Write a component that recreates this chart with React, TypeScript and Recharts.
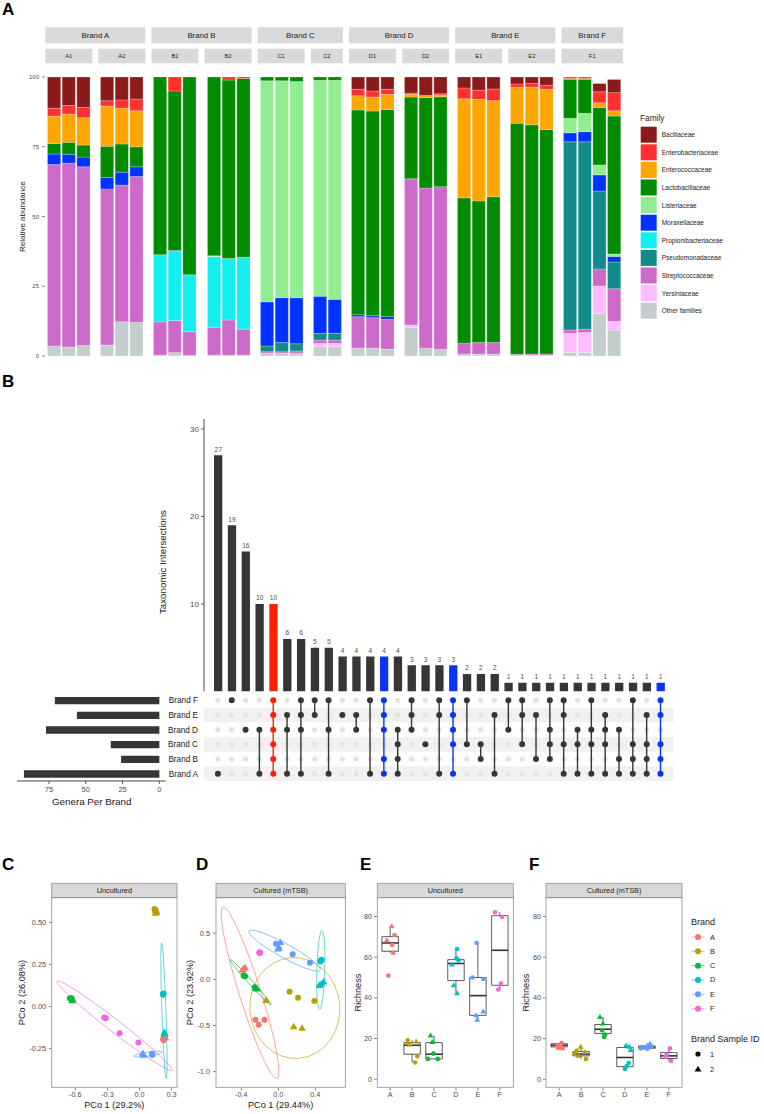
import React from "react"
import {
  Bar,
  BarChart,
  Cell,
  LabelList,
  ReferenceArea,
  ReferenceLine,
  Scatter,
  ScatterChart,
  XAxis,
  YAxis,
} from "recharts"

const FONT = "'Liberation Sans', Arial, sans-serif"
const TICK = "#4D4D4D"
const INK = "#1A1A1A"
const DARK = "#333333"

// ---------- Panel A: family composition per sample ----------
const sampleGroups = ["A1", "A2", "B1", "B2", "C1", "C2", "D1", "D2", "E1", "E2", "F1"]
const barsPerGroup = [3, 3, 3, 3, 3, 2, 3, 3, 3, 3, 4]

const familyNames = [
  "Bacillaceae",
  "Enterobacteriaceae",
  "Enterococcaceae",
  "Lactobacillaceae",
  "Listeriaceae",
  "Moraxellaceae",
  "Propionibacteriaceae",
  "Pseudomonadaceae",
  "Streptococcaceae",
  "Yersiniaceae",
  "Other families",
]
const familyColors = [
  "#8B1A1A",
  "#FF3030",
  "#FFA500",
  "#008B00",
  "#90EE90",
  "#0033FF",
  "#13EEEE",
  "#138B8B",
  "#CD69C9",
  "#FFBBFF",
  "#C4CDCD",
]

// one value per bar, 33 bars: A1 x3, A2 x3, B1 x3, B2 x3, C1 x3, C2 x2, D1 x3, D2 x3, E1 x3, E2 x3, F1 x4
const bacillaceae = [11.2, 10.2, 10.9, 8.5, 8.2, 7.9, 0, 0, 0, 0, 0, 0, 0, 0, 0, 0, 0, 4.4, 5.0, 4.4, 5.7, 6.6, 6.0, 3.9, 4.7, 4.3, 2.5, 2.3, 2.9, 0, 0, 3.0, 4.7]
const enterobacteriaceae = [2.8, 3.1, 3.7, 1.9, 3.0, 4.2, 0, 5.0, 0, 0, 1.1, 0.5, 0, 0, 0, 0, 0, 2.3, 2.2, 1.8, 0.5, 0, 0.4, 3.9, 3.3, 4.2, 1.2, 1.3, 1.5, 0.5, 0.5, 3.9, 6.5]
const enterococcaceae = [9.8, 10.1, 9.8, 14.4, 12.8, 12.9, 0, 0, 0, 0, 0, 0, 0, 0, 0, 0, 0, 5.1, 5.0, 5.4, 1.0, 0.7, 0.7, 35.5, 36.4, 34.4, 12.9, 13.5, 14.4, 0.3, 0.3, 1.7, 1.9]
const lactobacillaceae = [3.8, 4.3, 4.3, 11.2, 10.1, 7.2, 63.7, 57.2, 70.9, 64.1, 64.0, 64.1, 1.3, 1.3, 1.6, 1.2, 1.2, 73.4, 73.4, 74.3, 29.3, 32.5, 32.2, 52.2, 50.8, 52.3, 82.8, 82.2, 80.5, 14.0, 12.2, 20.6, 49.4]
const listeriaceae = [0, 0, 0, 0, 0, 0, 0, 0, 0, 0.3, 0, 0, 79.3, 77.8, 77.5, 77.4, 78.5, 0, 0, 0, 0, 0, 0, 0, 0, 0, 0, 0, 0, 5.2, 6.6, 3.6, 0.9]
const moraxellaceae = [3.8, 3.2, 3.5, 4.1, 4.7, 3.5, 0, 0.3, 0, 0, 0, 0, 15.8, 16.1, 16.5, 13.3, 12.2, 0.7, 0.7, 1.0, 0, 0, 0, 0, 0, 0, 0, 0, 0, 3.2, 3.6, 5.8, 2.0]
const propionibacteriaceae = [0, 0, 0, 0, 0, 0, 24.1, 24.8, 20.4, 25.3, 22.0, 25.8, 0, 0, 0, 0, 0, 0, 0, 0, 0, 0, 0, 0, 0, 0, 0, 0, 0, 0, 0, 0, 0]
const pseudomonadaceae = [0, 0, 0, 0, 0, 0, 0, 0, 0, 0, 0, 0, 2.1, 3.3, 2.6, 2.4, 2.4, 0, 0, 0, 0, 0, 0, 0, 0, 0, 0, 0, 0, 67.5, 67.2, 27.9, 9.6]
const streptococcaceae = [65.0, 65.9, 64.0, 56.0, 48.9, 52.2, 11.9, 11.5, 8.5, 10.0, 12.6, 9.3, 0.5, 0.5, 0.8, 1.2, 1.2, 11.3, 10.9, 10.6, 52.4, 57.4, 58.3, 3.8, 4.1, 4.1, 0.3, 0.4, 0.4, 1.2, 1.2, 6.1, 11.7]
const yersiniaceae = [0, 0, 0, 0, 0, 0, 0, 0, 0, 0, 0, 0, 0, 0, 0, 1.2, 1.2, 0, 0, 0, 0.8, 0, 0, 0, 0, 0, 0, 0, 0, 6.9, 7.2, 9.8, 3.1]
const otherFamilies = [3.6, 3.2, 3.8, 3.9, 12.3, 12.1, 0.3, 1.2, 0.2, 0.3, 0.3, 0.3, 1.0, 1.0, 1.0, 3.3, 3.3, 2.8, 2.8, 2.5, 10.3, 2.8, 2.4, 0.7, 0.7, 0.7, 0.3, 0.3, 0.3, 1.2, 1.2, 15.3, 9.3]

const familyValues = [
  bacillaceae,
  enterobacteriaceae,
  enterococcaceae,
  lactobacillaceae,
  listeriaceae,
  moraxellaceae,
  propionibacteriaceae,
  pseudomonadaceae,
  streptococcaceae,
  yersiniaceae,
  otherFamilies,
]
const stackOrder = familyNames.map((_, i) => i).reverse()

const groupStarts: number[] = []
barsPerGroup.reduce((acc, n) => {
  groupStarts.push(acc)
  return acc + n
}, 0)

const groupRows = sampleGroups.map((g, gi) =>
  Array.from({ length: barsPerGroup[gi] }, (_, k) => {
    const row: Record<string, string | number> = { id: `${g}.${k + 1}` }
    familyNames.forEach((f, fi) => {
      row[f] = familyValues[fi][groupStarts[gi] + k]
    })
    return row
  })
)

// layout of the faceted panel A
const U = 14.69
const GAP = 6.07
const A_LEFT = 45.3
const A_TOP = 77
const A_H = 279
const groupWidth = (gi: number) => (barsPerGroup[gi] + 0.2) * U
const groupLefts: number[] = []
{
  let x = A_LEFT
  barsPerGroup.forEach((_, gi) => {
    groupLefts.push(x)
    x += groupWidth(gi) + GAP
  })
}

// ---------- Panel B: upset ----------
const brandLetters = ["A", "B", "C", "D", "E", "F"]
const intersectionSizes = [27, 19, 16, 10, 10, 6, 6, 5, 5, 4, 4, 4, 4, 4, 3, 3, 3, 3, 2, 2, 2, 1, 1, 1, 1, 1, 1, 1, 1, 1, 1, 1, 1]
const intersectionSets = [
  "A", "F", "D", "DA", "FEDCBA", "EDA", "FEDA", "FE", "FDA", "E", "ED", "FA", "FEDBA", "DCBA", "FED", "C", "FEA",
  "FEDCA", "FC", "CB", "EA", "FD", "FEC", "EB", "FDCB", "FECA", "DCA", "FDCA", "EDCA", "DBA", "FCBA", "ECBA", "FECBA",
]
const coreColumn = 4
const fiveWayColumns = [12, 17, 32]
const setBrands = ["F", "E", "D", "C", "B", "A"]
const generaPerBrand = [71, 56, 77, 33, 26, 92]

const columnColor = (i: number) =>
  i === coreColumn ? "#FF2200" : fiveWayColumns.includes(i) ? "#0A33F5" : "#363636"

const intersectionRows = intersectionSizes.map((size, i) => ({ key: `I${i}`, size }))
const setRows = setBrands.map((brand, i) => ({ brand: `Brand ${brand}`, genera: generaPerBrand[i] }))

const inactiveDots = intersectionSets.flatMap((set, i) =>
  brandLetters.filter((b) => !set.includes(b)).map((b) => ({ x: i, y: brandLetters.indexOf(b) }))
)
const activeColumns = intersectionSets.map((set, i) => ({
  color: columnColor(i),
  dots: brandLetters
    .filter((b) => set.includes(b))
    .map((b) => ({ x: i, y: brandLetters.indexOf(b) })),
}))

// ---------- Panels C-F ----------
const brandColors: Record<string, string> = {
  A: "#F8766D",
  B: "#B79F00",
  C: "#00BA38",
  D: "#00BFC4",
  E: "#619CFF",
  F: "#F564E3",
}
const sampleBrand = sampleGroups.flatMap((g, gi) => Array(barsPerGroup[gi]).fill(g[0]))
const sampleNo = sampleGroups.flatMap((g, gi) => Array(barsPerGroup[gi]).fill(Number(g[1])))

const uncPco1 = [0.22, 0.23, 0.225, 0.235, 0.24, 0.23, 0.14, 0.15, 0.145, 0.155, 0.16, 0.15, -0.65, -0.64, -0.635, -0.625, -0.63, 0.222, 0.22, 0.224, 0.234, 0.238, 0.232, 0.119, 0.115, 0.12, 0.035, 0.04, 0.03, -0.33, -0.315, -0.186, -0.011]
const uncPco2 = [-0.195, -0.19, -0.2, -0.18, -0.185, -0.175, 0.58, 0.575, 0.565, 0.56, 0.565, 0.555, 0.05, 0.045, 0.05, 0.04, 0.035, 0.075, 0.07, 0.078, -0.16, -0.165, -0.155, -0.284, -0.28, -0.288, -0.285, -0.29, -0.28, -0.065, -0.07, -0.159, -0.214]
const culPco1 = [-0.249, -0.213, -0.151, -0.375, -0.36, -0.39, 0.122, 0.213, 0.389, -0.133, 0.166, 0.256, -0.375, -0.36, -0.255, -0.245, -0.23, 0.461, 0.455, 0.468, 0.443, 0.49, 0.465, -0.025, 0.155, 0.342, 0.022, -0.007, 0.01, -0.202, -0.205, -0.2, -0.198]
const culPco2 = [-0.437, -0.491, -0.437, 0.112, 0.125, 0.1, -0.134, -0.198, -0.235, -0.228, -0.513, -0.531, 0.04, 0.035, -0.085, -0.1, -0.105, 0.206, 0.195, 0.212, -0.065, -0.029, -0.05, 0.385, 0.271, 0.181, 0.4, 0.328, 0.34, 0.289, 0.292, 0.286, 0.29]

const uncRichness = [70.9, 66.0, 51.0, 75.2, 68.3, 62.1, 19.2, 11.3, 8.2, 18.2, 18.5, 17.0, 12.6, 10.0, 10.0, 21.5, 18.3, 64.0, 59.5, 58.5, 56.4, 46.2, 42.3, 67.0, 50.0, 49.3, 31.4, 29.2, 33.3, 82.1, 79.9, 47.0, 44.1]
const uncJitter = [0.2, 0.09, -0.08, 0.07, -0.15, 0.14, -0.2, 0.24, 0.14, -0.18, 0.18, -0.1, -0.03, -0.28, 0.17, -0.16, -0.08, 0.05, 0.03, 0.12, -0.18, -0.1, 0.05, -0.06, -0.25, 0.25, -0.09, -0.03, 0.24, -0.22, 0.1, 0.05, -0.07]
const culRichness = [17.8, 16.7, 16.2, 16.5, 15.5, 15.2, 14.0, 12.6, 10.0, 15.9, 13.4, 11.5, 24.1, 22.0, 20.8, 30.6, 27.4, 8.0, 5.1, 6.5, 16.6, 16.0, 14.3, 15.2, 15.6, 15.0, 17.5, 16.4, 15.9, 15.2, 12.0, 11.0, 9.0]
const culJitter = [0.11, -0.07, 0.07, 0.04, -0.04, 0.16, -0.2, -0.3, 0.22, -0.02, 0.18, -0.12, -0.04, 0.09, 0.05, -0.14, 0, 0.17, 0, 0.08, 0.05, 0.2, 0.26, -0.28, -0.13, 0.02, 0.14, 0.02, 0.22, 0.05, -0.1, -0.16, 0.1]

const uncBoxLow = [62.1, 8.2, 10.0, 42.3, 29.2, 44.1]
const uncBoxQ1 = [62.9, 12.3, 10.0, 48.5, 31.4, 46.2]
const uncBoxMedian = [67.0, 16.7, 12.3, 56.9, 41.1, 63.4]
const uncBoxQ3 = [70.1, 18.0, 18.0, 58.8, 50.0, 80.4]
const uncBoxHigh = [75.2, 19.2, 21.5, 64.0, 67.0, 82.1]
const culBoxLow = [15.2, 10.0, 20.8, 5.1, 15.0, 9.0]
const culBoxQ1 = [15.9, 11.5, 22.5, 6.2, 15.1, 10.2]
const culBoxMedian = [16.7, 12.4, 24.6, 10.7, 15.7, 11.5]
const culBoxQ3 = [17.5, 13.6, 26.9, 15.6, 16.4, 13.1]
const culBoxHigh = [17.8, 15.9, 30.6, 16.6, 17.5, 15.2]

// ellipses: major axis end points (data units) and minor/major ratio
const uncEllipses = [
  { brand: "F", x1: -0.771, y1: 0.151, x2: 0.304, y2: -0.379, ratio: 0.085 },
  { brand: "D", x1: 0.206, y1: 0.379, x2: 0.25, y2: -0.429, ratio: 0.03 },
  { brand: "E", x1: -0.055, y1: -0.295, x2: 0.216, y2: -0.27, ratio: 0.14 },
]
const culEllipses = [
  { brand: "A", x1: -0.598, y1: 0.783, x2: -0.014, y2: -1.076, ratio: 0.12 },
  { brand: "C", x1: -0.519, y1: 0.213, x2: -0.079, y2: -0.278, ratio: 0.07 },
  { brand: "E", x1: -0.317, y1: 0.523, x2: 0.454, y2: 0.098, ratio: 0.17 },
  { brand: "D", x1: 0.472, y1: 0.531, x2: 0.446, y2: -0.328, ratio: 0.1 },
  { brand: "B", x1: 0.13, y1: 0.235, x2: 0.227, y2: -0.856, ratio: 0.89 },
]

const toPoints = (xs: number[], ys: number[]) =>
  xs.map((x, i) => ({ x, y: ys[i], brand: sampleBrand[i], sample: sampleNo[i] }))
const toRichness = (vals: number[], jitter: number[]) =>
  vals.map((y, i) => ({ x: brandLetters.indexOf(sampleBrand[i]) + 1 + jitter[i], y, brand: sampleBrand[i], sample: sampleNo[i] }))

const PLOT_TOP = 897.7
const PLOT_H = 189.6

const tickStyle = (size: number) => ({ fontSize: size, fill: TICK, fontFamily: FONT })

function brandMarker(r: number) {
  return (props: any) => {
    const { cx, cy, payload } = props
    if (cx == null || cy == null) return <g />
    const color = brandColors[payload.brand]
    if (payload.sample === 2) {
      const s = r * 1.35
      return (
        <path
          d={`M${cx},${cy - s} L${cx + s * 0.95},${cy + s * 0.62} L${cx - s * 0.95},${cy + s * 0.62}Z`}
          fill={color}
        />
      )
    }
    return <circle cx={cx} cy={cy} r={r} fill={color} />
  }
}

function EllipseShape(props: any) {
  const { x, y, width, height, spec } = props
  if (![x, y, width, height].every((v) => Number.isFinite(v))) return <g />
  const rising = (spec.x2 - spec.x1) * (spec.y2 - spec.y1) > 0
  const cx = x + width / 2
  const cy = y + height / 2
  const rx = Math.hypot(width, height) / 2
  const angle = (Math.atan2(rising ? -height : height, width) * 180) / Math.PI
  return (
    <ellipse
      cx={cx}
      cy={cy}
      rx={rx}
      ry={rx * spec.ratio}
      transform={`rotate(${angle} ${cx} ${cy})`}
      fill="none"
      stroke={brandColors[spec.brand]}
      strokeWidth={0.6}
    />
  )
}

function CompositionPanel({ gi }: { gi: number }) {
  const axisW = gi === 0 ? 40 : 0
  const plotW = groupWidth(gi)
  return (
    <div style={{ position: "absolute", left: groupLefts[gi] - axisW, top: A_TOP - 5 }}>
      <BarChart
        width={plotW + axisW}
        height={A_H + 10}
        data={groupRows[gi]}
        margin={{ top: 5, right: 0, bottom: 5, left: 0 }}
      >
        <XAxis dataKey="id" hide padding={{ left: 0.1 * U, right: 0.1 * U }} />
        <YAxis
          hide={gi !== 0}
          width={axisW}
          domain={[0, 100]}
          allowDataOverflow
          ticks={[0, 25, 50, 75, 100]}
          axisLine={false}
          tickSize={3}
          tickMargin={3}
          tickLine={{ stroke: DARK, strokeWidth: 0.6 }}
          tick={tickStyle(6)}
        />
        {stackOrder.map((fi) => (
          <Bar
            key={familyNames[fi]}
            dataKey={familyNames[fi]}
            stackId="family"
            fill={familyColors[fi]}
            stroke="#ffffff"
            strokeWidth={0.25}
            barSize={0.9 * U}
            isAnimationActive={false}
          />
        ))}
      </BarChart>
    </div>
  )
}

function IntersectionBars() {
  const plotW = 469.7
  return (
    <div style={{ position: "absolute", left: 204.3 - 30, top: 414.3 }}>
      <BarChart
        width={30 + plotW}
        height={278.4}
        data={intersectionRows}
        margin={{ top: 5, right: 0, bottom: 1, left: 0 }}
      >
        <XAxis
          dataKey="key"
          height={0}
          tick={false}
          tickLine={false}
          axisLine={{ stroke: DARK, strokeWidth: 0.9 }}
          padding={{ left: 7, right: 6.3 }}
        />
        <YAxis
          width={30}
          domain={[0, 31.14]}
          allowDataOverflow
          ticks={[0, 10, 20, 30]}
          tickSize={3}
          tickMargin={2}
          axisLine={{ stroke: DARK, strokeWidth: 0.9 }}
          tickLine={{ stroke: DARK, strokeWidth: 0.8 }}
          tick={tickStyle(8)}
        />
        <Bar dataKey="size" barSize={8.3} isAnimationActive={false}>
          {intersectionRows.map((r, i) => (
            <Cell key={r.key} fill={columnColor(i)} />
          ))}
          <LabelList dataKey="size" position="top" offset={3.5} fontSize={6.6} fill={TICK} fontFamily={FONT} />
        </Bar>
      </BarChart>
    </div>
  )
}

function IntersectionMatrix() {
  const axisW = 70
  return (
    <div style={{ position: "absolute", left: 204.3 - axisW, top: 692.7 }}>
      <ScatterChart width={axisW + 469.7} height={88} margin={{ top: 0, right: 0, bottom: 0, left: 0 }}>
        <XAxis type="number" dataKey="x" domain={[-1.005, 32.954]} allowDataOverflow hide />
        <YAxis
          type="number"
          dataKey="y"
          domain={[-0.5, 5.5]}
          allowDataOverflow
          ticks={[0, 1, 2, 3, 4, 5]}
          width={axisW}
          axisLine={false}
          tickLine={false}
          tickSize={4}
          tickMargin={2}
          tickFormatter={(v: number) => `Brand ${brandLetters[v]}`}
          tick={{ fontSize: 8.2, fill: INK, fontFamily: FONT, width: 60 }}
        />
        {[0, 2, 4].map((r) => (
          <ReferenceArea key={r} y1={r - 0.5} y2={r + 0.5} fill="#F1F1F1" fillOpacity={1} stroke="none" ifOverflow="visible" />
        ))}
        <Scatter
          data={inactiveDots}
          isAnimationActive={false}
          shape={(p: any) => <circle cx={p.cx} cy={p.cy} r={2.6} fill="#E3E3E3" />}
        />
        {activeColumns.map((col, i) => (
          <Scatter
            key={i}
            data={col.dots}
            line={{ stroke: col.color, strokeWidth: 1.4 }}
            lineType="joint"
            isAnimationActive={false}
            shape={(p: any) => <circle cx={p.cx} cy={p.cy} r={3} fill={col.color} />}
          />
        ))}
      </ScatterChart>
    </div>
  )
}

function SetSizeBars() {
  return (
    <div style={{ position: "absolute", left: 17.3, top: 692.7 }}>
      <BarChart
        layout="vertical"
        width={148.7}
        height={88 + 14}
        data={setRows}
        margin={{ top: 0, right: 0, bottom: 0, left: 0 }}
      >
        <XAxis
          type="number"
          domain={[-4.3, 96.7]}
          allowDataOverflow
          reversed
          ticks={[0, 25, 50, 75]}
          height={14}
          tickSize={3}
          tickMargin={2.5}
          axisLine={{ stroke: DARK, strokeWidth: 0.9 }}
          tickLine={{ stroke: DARK, strokeWidth: 0.8 }}
          tick={tickStyle(7.5)}
        />
        <YAxis type="category" dataKey="brand" hide />
        <Bar dataKey="genera" fill="#363636" barSize={7.3} isAnimationActive={false} />
      </BarChart>
    </div>
  )
}

function PcoaPanel({
  left,
  plotW,
  xDomain,
  yDomain,
  xTicks,
  yTicks,
  xDigits,
  yDigits,
  points,
  ellipses,
}: {
  left: number
  plotW: number
  xDomain: [number, number]
  yDomain: [number, number]
  xTicks: number[]
  yTicks: number[]
  xDigits: number
  yDigits: number
  points: any[]
  ellipses: any[]
}) {
  return (
    <div style={{ position: "absolute", left: left - 40, top: PLOT_TOP }}>
      <ScatterChart width={plotW + 40} height={PLOT_H + 14} margin={{ top: 0, right: 0, bottom: 0, left: 0 }}>
        <XAxis
          type="number"
          dataKey="x"
          domain={xDomain}
          allowDataOverflow
          ticks={xTicks}
          height={14}
          axisLine={false}
          tickSize={3}
          tickMargin={1}
          tickLine={{ stroke: DARK, strokeWidth: 0.6 }}
          tickFormatter={(v: number) => v.toFixed(xDigits)}
          tick={tickStyle(7.3)}
        />
        <YAxis
          type="number"
          dataKey="y"
          domain={yDomain}
          allowDataOverflow
          ticks={yTicks}
          width={40}
          axisLine={false}
          tickSize={3}
          tickMargin={3}
          tickLine={{ stroke: DARK, strokeWidth: 0.6 }}
          tickFormatter={(v: number) => v.toFixed(yDigits)}
          tick={tickStyle(7.3)}
        />
        <Scatter data={points} isAnimationActive={false} shape={brandMarker(3)} />
        {ellipses.map((e, i) => (
          <ReferenceArea
            key={i}
            x1={e.x1}
            x2={e.x2}
            y1={e.y1}
            y2={e.y2}
            ifOverflow="visible"
            shape={(p: any) => <EllipseShape {...p} spec={e} />}
          />
        ))}
      </ScatterChart>
    </div>
  )
}

function RichnessPanel({
  left,
  points,
  low,
  q1,
  median,
  q3,
  high,
}: {
  left: number
  points: any[]
  low: number[]
  q1: number[]
  median: number[]
  q3: number[]
  high: number[]
}) {
  const half = 0.375
  return (
    <div style={{ position: "absolute", left: left - 40, top: PLOT_TOP }}>
      <ScatterChart width={136 + 40} height={PLOT_H + 14} margin={{ top: 0, right: 0, bottom: 0, left: 0 }}>
        <XAxis
          type="number"
          dataKey="x"
          domain={[0.4, 6.6]}
          allowDataOverflow
          ticks={[1, 2, 3, 4, 5, 6]}
          height={14}
          axisLine={false}
          tickSize={3}
          tickMargin={1}
          tickLine={{ stroke: DARK, strokeWidth: 0.6 }}
          tickFormatter={(v: number) => brandLetters[v - 1]}
          tick={tickStyle(7.3)}
        />
        <YAxis
          type="number"
          dataKey="y"
          domain={[-4.1, 89.1]}
          allowDataOverflow
          ticks={[0, 20, 40, 60, 80]}
          width={40}
          axisLine={false}
          tickSize={3}
          tickMargin={2}
          tickLine={{ stroke: DARK, strokeWidth: 0.6 }}
          tick={tickStyle(7.3)}
        />
        {brandLetters.map((b, i) => (
          <ReferenceLine
            key={`hi-${b}`}
            segment={[
              { x: i + 1, y: q3[i] },
              { x: i + 1, y: high[i] },
            ]}
            stroke={DARK}
            strokeWidth={0.8}
          />
        ))}
        {brandLetters.map((b, i) => (
          <ReferenceLine
            key={`lo-${b}`}
            segment={[
              { x: i + 1, y: low[i] },
              { x: i + 1, y: q1[i] },
            ]}
            stroke={DARK}
            strokeWidth={0.8}
          />
        ))}
        {brandLetters.map((b, i) => (
          <ReferenceArea
            key={`box-${b}`}
            x1={i + 1 - half}
            x2={i + 1 + half}
            y1={q1[i]}
            y2={q3[i]}
            fill="#ffffff"
            fillOpacity={1}
            stroke={DARK}
            strokeWidth={0.8}
            ifOverflow="visible"
          />
        ))}
        {brandLetters.map((b, i) => (
          <ReferenceLine
            key={`med-${b}`}
            segment={[
              { x: i + 1 - half, y: median[i] },
              { x: i + 1 + half, y: median[i] },
            ]}
            stroke={DARK}
            strokeWidth={1.6}
          />
        ))}
        <Scatter data={points} isAnimationActive={false} shape={brandMarker(2.3)} />
      </ScatterChart>
    </div>
  )
}

function Strip({ x, y, w, h, label, size }: { x: number; y: number; w: number; h: number; label: string; size: number }) {
  return (
    <g>
      <rect x={x} y={y} width={w} height={h} fill="#D9D9D9" />
      <text x={x + w / 2} y={y + h / 2} textAnchor="middle" dominantBaseline="central" fontSize={size} fill={INK}>
        {label}
      </text>
    </g>
  )
}

function Overlay() {
  const letters: [string, number, number][] = [
    ["A", 2, 15],
    ["B", 2, 387],
    ["C", 2, 870],
    ["D", 196, 870],
    ["E", 360, 870],
    ["F", 529, 870],
  ]
  const facetPanels = [
    { x: 51.7, w: 125.3, label: "Uncultured" },
    { x: 216, w: 129.3, label: "Cultured (mTSB)" },
    { x: 377.3, w: 136, label: "Uncultured" },
    { x: 546, w: 136, label: "Cultured (mTSB)" },
  ]
  const rotated = (x: number, y: number, label: string, size: number) => (
    <text
      x={x}
      y={y}
      transform={`rotate(-90 ${x} ${y})`}
      textAnchor="middle"
      dominantBaseline="central"
      fontSize={size}
      fill={INK}
    >
      {label}
    </text>
  )
  return (
    <svg
      width={764}
      height={1114}
      style={{ position: "absolute", left: 0, top: 0, pointerEvents: "none" }}
      fontFamily={FONT}
    >
      {letters.map(([t, x, y]) => (
        <text key={t} x={x} y={y} fontSize={17} fontWeight="bold" fill="#000">
          {t}
        </text>
      ))}

      {/* panel A strips */}
      {brandLetters.map((b) => {
        const idx = sampleGroups.map((g, i) => (g[0] === b ? i : -1)).filter((i) => i >= 0)
        const first = idx[0]
        const last = idx[idx.length - 1]
        const x0 = groupLefts[first]
        const x1 = groupLefts[last] + groupWidth(last)
        return <Strip key={b} x={x0} y={27.3} w={x1 - x0} h={16} label={`Brand ${b}`} size={7.8} />
      })}
      {sampleGroups.map((g, gi) => (
        <Strip key={g} x={groupLefts[gi]} y={48.7} w={groupWidth(gi)} h={14.6} label={g} size={5.8} />
      ))}
      {rotated(22.3, 216.7, "Relative abundance", 8)}

      {/* family legend */}
      <text x={640} y={118} dominantBaseline="central" fontSize={8.3} fill={INK}>
        Family
      </text>
      {familyNames.map((f, i) => (
        <g key={f}>
          <rect x={640.7} y={126.7 + i * 17.6} width={16} height={16} fill={familyColors[i]} />
          <text x={661.7} y={134.7 + i * 17.6} dominantBaseline="central" fontSize={6.5} fill={INK}>
            {f}
          </text>
        </g>
      ))}

      {/* panel B titles */}
      {rotated(162, 562, "Taxonomic Intersections", 9.7)}
      <text x={91.7} y={801} textAnchor="middle" dominantBaseline="central" fontSize={9.8} fill={INK}>
        Genera Per Brand
      </text>

      {/* panels C-F frames */}
      {facetPanels.map((p, i) => (
        <g key={i}>
          <rect x={p.x} y={883.3} width={p.w} height={14.4} fill="#D9D9D9" stroke="#8F8F8F" strokeWidth={0.8} />
          <text x={p.x + p.w / 2} y={890.5} textAnchor="middle" dominantBaseline="central" fontSize={7.3} fill={INK}>
            {p.label}
          </text>
          <rect x={p.x} y={PLOT_TOP} width={p.w} height={PLOT_H} fill="none" stroke="#8F8F8F" strokeWidth={0.8} />
        </g>
      ))}
      <text x={114.3} y={1105} textAnchor="middle" dominantBaseline="central" fontSize={9.2} fill={INK}>
        PCo 1 (29.2%)
      </text>
      {rotated(22, 992.5, "PCo 2 (26.08%)", 9.2)}
      <text x={280.6} y={1105} textAnchor="middle" dominantBaseline="central" fontSize={9.2} fill={INK}>
        PCo 1 (29.44%)
      </text>
      {rotated(189.5, 992.5, "PCo 2 (23.92%)", 9.2)}
      {rotated(358.3, 992.5, "Richness", 9.2)}
      {rotated(525.7, 992.5, "Richness", 9.2)}

      {/* brand legend */}
      <text x={691} y={921.7} dominantBaseline="central" fontSize={9} fill={INK}>
        Brand
      </text>
      {brandLetters.map((b, i) => {
        const y = 937 + i * 14.33
        return (
          <g key={b}>
            <line x1={691.5} x2={704.5} y1={y} y2={y} stroke={brandColors[b]} strokeWidth={0.6} />
            <circle cx={698} cy={y} r={3} fill={brandColors[b]} />
            <text x={710} y={y} dominantBaseline="central" fontSize={7.3} fill={INK}>
              {b}
            </text>
          </g>
        )
      })}
      <text x={691} y={1039.3} dominantBaseline="central" fontSize={9} fill={INK}>
        Brand Sample ID
      </text>
      <circle cx={698} cy={1054} r={2.6} fill="#000" />
      <text x={710} y={1054} dominantBaseline="central" fontSize={7.3} fill={INK}>
        1
      </text>
      <path d="M698,1065.8 L701.4,1071.5 L694.6,1071.5Z" fill="#000" />
      <text x={710} y={1069.3} dominantBaseline="central" fontSize={7.3} fill={INK}>
        2
      </text>
    </svg>
  )
}

export default function App() {
  return (
    <div
      style={{
        position: "absolute",
        left: 0,
        top: 0,
        width: 764,
        height: 1114,
        background: "#ffffff",
        fontFamily: FONT,
        overflow: "hidden",
      }}
    >
      {sampleGroups.map((g, gi) => (
        <CompositionPanel key={g} gi={gi} />
      ))}
      <IntersectionBars />
      <SetSizeBars />
      <IntersectionMatrix />
      <PcoaPanel
        left={51.7}
        plotW={125.3}
        xDomain={[-0.818, 0.353]}
        yDomain={[-0.482, 0.646]}
        xTicks={[-0.6, -0.3, 0, 0.3]}
        yTicks={[-0.25, 0, 0.25, 0.5]}
        xDigits={1}
        yDigits={2}
        points={toPoints(uncPco1, uncPco2)}
        ellipses={uncEllipses}
      />
      <PcoaPanel
        left={216}
        plotW={129.3}
        xDomain={[-0.674, 0.724]}
        yDomain={[-1.173, 0.882]}
        xTicks={[-0.4, 0, 0.4]}
        yTicks={[-1, -0.5, 0, 0.5]}
        xDigits={1}
        yDigits={1}
        points={toPoints(culPco1, culPco2)}
        ellipses={culEllipses}
      />
      <RichnessPanel
        left={377.3}
        points={toRichness(uncRichness, uncJitter)}
        low={uncBoxLow}
        q1={uncBoxQ1}
        median={uncBoxMedian}
        q3={uncBoxQ3}
        high={uncBoxHigh}
      />
      <RichnessPanel
        left={546}
        points={toRichness(culRichness, culJitter)}
        low={culBoxLow}
        q1={culBoxQ1}
        median={culBoxMedian}
        q3={culBoxQ3}
        high={culBoxHigh}
      />
      <Overlay />
    </div>
  )
}
